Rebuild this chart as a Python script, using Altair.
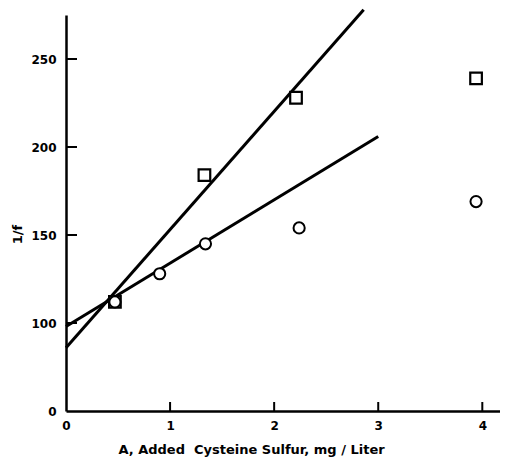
import altair as alt
import pandas as pd

# Data
sq_x = [0.47, 1.33, 2.21, 3.94]
sq_y = [112, 184, 228, 239]
ci_x = [0.47, 0.90, 1.34, 2.24, 3.94]
ci_y = [112, 128, 145, 154, 169]
steep_x = [0.0, 2.86]
steep_y = [86, 278]
shallow_x = [0.0, 3.0]
shallow_y = [98, 206]
x_ticks = [0, 1, 2, 3, 4]
y_ticks = [50, 100, 150, 200, 250]   # 50 is drawn as the broken-axis "0"

W, H = 434, 396
FONT = "DejaVu Sans"

sq = pd.DataFrame({"x": sq_x, "y": sq_y})
ci = pd.DataFrame({"x": ci_x, "y": ci_y})
steep = pd.DataFrame({"x": steep_x, "y": steep_y})
shallow = pd.DataFrame({"x": shallow_x, "y": shallow_y})
xt = pd.DataFrame({"x": x_ticks[1:]})
yt = pd.DataFrame({"y": y_ticks[1:]})

xscale = alt.Scale(domain=[0, 4.17], nice=False, zero=False)
yscale = alt.Scale(domain=[50, 275], nice=False, zero=False)

xaxis = alt.Axis(values=x_ticks, ticks=False, grid=False, domainColor="black",
                 domainWidth=2.5, labelFont=FONT, labelFontSize=12, labelFontWeight="bold",
                 labelColor="black", labelPadding=9, labelFlush=False,
                 title="A, Added\u00a0 Cysteine Sulfur, mg / Liter", titleFont=FONT,
                 titleFontSize=13, titleFontWeight="bold", titleColor="black",
                 titleX=185, titleY=38, titleAlign="center", titleBaseline="middle")
yaxis = alt.Axis(values=y_ticks, ticks=False, grid=False, domainColor="black",
                 domainWidth=2.5, labelFont=FONT, labelFontSize=12, labelFontWeight="bold",
                 labelColor="black", labelPadding=10,
                 labelExpr="datum.value == 50 ? '0' : datum.label",
                 title="1/f", titleFont=FONT, titleFontSize=13, titleFontWeight="bold",
                 titleColor="black", titleX=-49, titleY=219, titleAlign="center",
                 titleBaseline="middle")

base_x = alt.X("x:Q", scale=xscale, axis=xaxis)
base_y = alt.Y("y:Q", scale=yscale, axis=yaxis)

l_steep = alt.Chart(steep).mark_line(color="black", strokeWidth=3).encode(x=base_x, y=base_y)
l_shallow = alt.Chart(shallow).mark_line(color="black", strokeWidth=3).encode(x=base_x, y=base_y)

p_ci = alt.Chart(ci).mark_point(shape="circle", filled=True, fill="white", stroke="black",
                                strokeWidth=2, size=125, opacity=1).encode(x=base_x, y=base_y)
p_sq = alt.Chart(sq).mark_point(shape="square", filled=True, fill="white", stroke="black",
                                strokeWidth=2.2, size=135, opacity=1).encode(x=base_x, y=base_y)

tx = alt.Chart(xt).mark_rule(color="black", strokeWidth=2).encode(
    x=base_x, y=alt.value(H), y2=alt.value(H - 9))
ty = alt.Chart(yt).mark_rule(color="black", strokeWidth=2).encode(
    y=base_y, x=alt.value(0), x2=alt.value(11))

chart = alt.layer(l_steep, l_shallow, tx, ty, p_sq, p_ci).properties(
    width=W, height=H,
    autosize=alt.AutoSizeParams(type="none"),
    padding={"left": 58, "top": 7, "right": 0, "bottom": 46},
    background="white",
).configure_view(stroke=None)

chart.save("out.html", embed_options={"renderer": "svg", "actions": False})
